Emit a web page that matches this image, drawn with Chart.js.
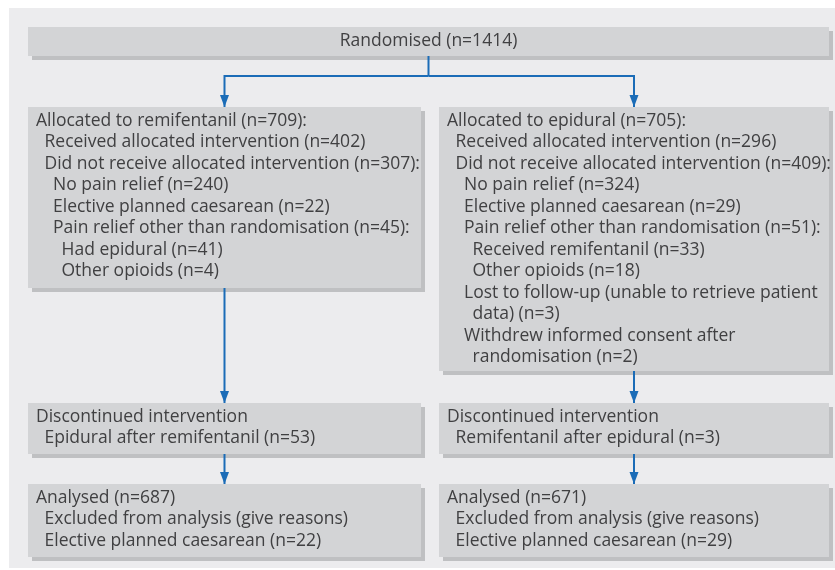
<!DOCTYPE html>
<html>
<head>
<meta charset="utf-8">
<script src="https://cdn.jsdelivr.net/npm/chart.js@4.4.1/dist/chart.umd.min.js"></script>
<style>
  html, body { margin: 0; padding: 0; background: #fff; }
  #wrap { width: 835px; height: 570px; }
</style>
</head>
<body>
<div id="wrap"><canvas id="flowChart"></canvas></div>
<script>
// Counts (remifentanil arm, epidural arm)
var randomised = 1414;
var arms = ['remifentanil', 'epidural'];
var allocated = [709, 705];
var received = [402, 296];
var notReceived = [307, 409];
var noPainRelief = [240, 324];
var electiveCaesarean = [22, 29];
var otherPainRelief = [45, 51];
var switchedLabel = ['Had epidural', 'Received remifentanil'];
var switchedN = [41, 33];
var otherOpioids = [4, 18];
var lostFollowUp = [null, 3];
var withdrewConsent = [null, 2];
var discontinuedLabel = ['Epidural after remifentanil', 'Remifentanil after epidural'];
var discontinuedN = [53, 3];
var analysed = [687, 671];
var excludedCaesarean = [22, 29];

// Text of each box: [indent level, text]
function allocText(i) {
    var t = [
        [0, 'Allocated to ' + arms[i] + ' (n=' + allocated[i] + '):'],
        [1, 'Received allocated intervention (n=' + received[i] + ')'],
        [1, 'Did not receive allocated intervention (n=' + notReceived[i] + '):'],
        [2, 'No pain relief (n=' + noPainRelief[i] + ')'],
        [2, 'Elective planned caesarean (n=' + electiveCaesarean[i] + ')'],
        [2, 'Pain relief other than randomisation (n=' + otherPainRelief[i] + '):'],
        [3, switchedLabel[i] + ' (n=' + switchedN[i] + ')'],
        [3, 'Other opioids (n=' + otherOpioids[i] + ')']
    ];
    if (lostFollowUp[i] !== null) {
        t.push([2, 'Lost to follow-up (unable to retrieve patient']);
        t.push([3, 'data) (n=' + lostFollowUp[i] + ')']);
    }
    if (withdrewConsent[i] !== null) {
        t.push([2, 'Withdrew informed consent after']);
        t.push([3, 'randomisation (n=' + withdrewConsent[i] + ')']);
    }
    return t;
}
function discText(i) {
    return [[0, 'Discontinued intervention'],
            [1, discontinuedLabel[i] + ' (n=' + discontinuedN[i] + ')']];
}
function analText(i) {
    return [[0, 'Analysed (n=' + analysed[i] + ')'],
            [1, 'Excluded from analysis (give reasons)'],
            [1, 'Elective planned caesarean (n=' + excludedCaesarean[i] + ')']];
}

// Layout of the boxes, in the 835 x 570 value space of the hidden axes
var colX = [[28, 421], [439, 829]];
var topBox = { x0: 28, x1: 829, y0: 27, y1: 56 };
var allocY = [[107, 288], [107, 371]];
var discY = [403, 454];
var analY = [484, 557];
var splitY = 76;

var boxes = [];
boxes.push({ b: topBox, center: 'Randomised (n=' + randomised + ')' });
[0, 1].forEach(function (i) {
    boxes.push({ b: { x0: colX[i][0], x1: colX[i][1], y0: allocY[i][0], y1: allocY[i][1] }, lines: allocText(i) });
    boxes.push({ b: { x0: colX[i][0], x1: colX[i][1], y0: discY[0], y1: discY[1] }, lines: discText(i) });
    boxes.push({ b: { x0: colX[i][0], x1: colX[i][1], y0: analY[0], y1: analY[1] }, lines: analText(i) });
});

// Connector lines, built from the box layout
var blue = '#1b6cb7';
var midTop = (topBox.x0 + topBox.x1) / 2;
var cx = colX.map(function (c) { return (c[0] + c[1]) / 2; });
var connectors = [
    [{ x: midTop, y: topBox.y1 }, { x: midTop, y: splitY }],
    [{ x: midTop, y: splitY }, { x: cx[0], y: splitY }, { x: cx[0], y: allocY[0][0] }],
    [{ x: midTop, y: splitY }, { x: cx[1], y: splitY }, { x: cx[1], y: allocY[1][0] }],
    [{ x: cx[0], y: allocY[0][1] }, { x: cx[0], y: discY[0] }],
    [{ x: cx[1], y: allocY[1][1] }, { x: cx[1], y: discY[0] }],
    [{ x: cx[0], y: discY[1] }, { x: cx[0], y: analY[0] }],
    [{ x: cx[1], y: discY[1] }, { x: cx[1], y: analY[0] }]
];

var FONT = '17.5px "Open Sans", "Noto Sans", sans-serif';
var LINE_H = 21.5;

var flowPlugin = {
    id: 'flowBoxes',
    beforeDatasetsDraw: function (chart) {
        var ctx = chart.ctx, xs = chart.scales.x, ys = chart.scales.y;
        ctx.save();
        // panel
        ctx.fillStyle = '#ececee';
        ctx.fillRect(xs.getPixelForValue(9), ys.getPixelForValue(8),
                     xs.getPixelForValue(835) - xs.getPixelForValue(9),
                     ys.getPixelForValue(568) - ys.getPixelForValue(8));
        boxes.forEach(function (bx) {
            var x0 = xs.getPixelForValue(bx.b.x0), x1 = xs.getPixelForValue(bx.b.x1);
            var y0 = ys.getPixelForValue(bx.b.y0), y1 = ys.getPixelForValue(bx.b.y1);
            ctx.fillStyle = '#bfc0c2';
            ctx.fillRect(x0 + 4, y0 + 4, x1 - x0, y1 - y0);
            ctx.fillStyle = '#d3d4d6';
            ctx.fillRect(x0, y0, x1 - x0, y1 - y0);
            ctx.fillStyle = '#404042';
            ctx.font = FONT;
            ctx.textBaseline = 'middle';
            if (bx.center) {
                ctx.textAlign = 'center';
                ctx.fillText(bx.center, (x0 + x1) / 2, (y0 + y1) / 2);
            } else {
                ctx.textAlign = 'left';
                bx.lines.forEach(function (ln, k) {
                    ctx.fillText(ln[1], x0 + 8 + ln[0] * 8.5, y0 + 14 + k * LINE_H);
                });
            }
        });
        ctx.restore();
    },
    afterDatasetsDraw: function (chart) {
        var ctx = chart.ctx, xs = chart.scales.x, ys = chart.scales.y;
        ctx.save();
        ctx.fillStyle = blue;
        connectors.forEach(function (c, i) {
            if (i === 0) return;
            var p = c[c.length - 1];
            var x = xs.getPixelForValue(p.x), y = ys.getPixelForValue(p.y);
            ctx.beginPath();
            ctx.moveTo(x, y);
            ctx.lineTo(x - 4.5, y - 12);
            ctx.lineTo(x + 4.5, y - 12);
            ctx.closePath();
            ctx.fill();
        });
        ctx.restore();
    }
};

var ctx = document.getElementById('flowChart').getContext('2d');
var flowChart = new Chart(ctx, {
    type: 'scatter',
    data: {
        datasets: connectors.map(function (c) {
            return {
                data: c,
                showLine: true,
                borderColor: blue,
                borderWidth: 2,
                pointRadius: 0,
                fill: false,
                tension: 0
            };
        })
    },
    options: {
        responsive: true,
        maintainAspectRatio: false,
        animation: false,
        layout: { padding: 0 },
        plugins: { legend: { display: false }, tooltip: { enabled: false } },
        scales: {
            x: { type: 'linear', min: 0, max: 835, display: false },
            y: { type: 'linear', min: 0, max: 570, reverse: true, display: false }
        }
    },
    plugins: [flowPlugin]
});
</script>
</body>
</html>
